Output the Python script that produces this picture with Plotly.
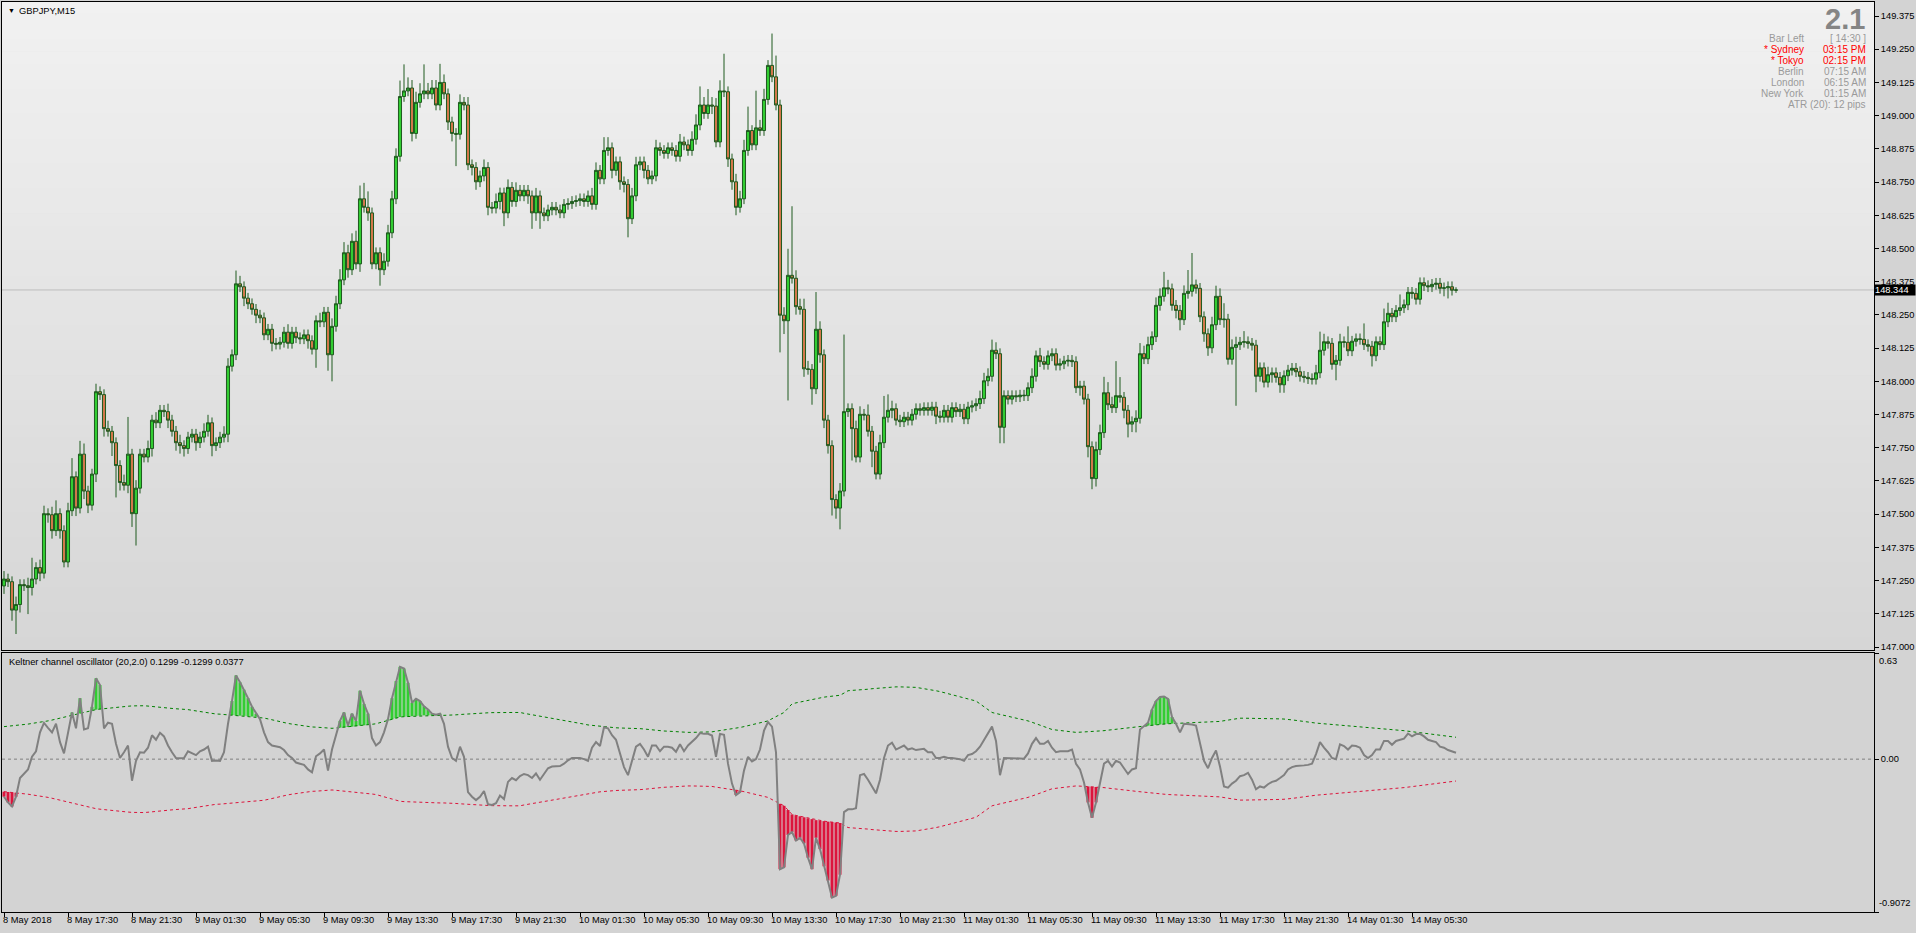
import plotly.graph_objects as go

# ---------------- data ----------------
symbol_text = "GBPJPY,M15"
indicator_title = "Keltner channel oscillator (20,2.0) 0.1299 -0.1299 0.0377"
first_open = 147.230

closes = [
    147.256, 147.246, 147.139, 147.160, 147.235, 147.231, 147.224, 147.256, 147.299, 147.278, 147.502, 147.498, 147.438, 147.502, 147.438, 147.320,
    147.513, 147.641, 147.523, 147.726, 147.587, 147.534, 147.651, 147.961, 147.950, 147.822, 147.812, 147.769, 147.683, 147.619, 147.609, 147.726,
    147.502, 147.598, 147.726, 147.715, 147.747, 147.854, 147.844, 147.891, 147.886, 147.854, 147.812, 147.769, 147.758, 147.747, 147.790, 147.801,
    147.769, 147.790, 147.812, 147.844, 147.758, 147.769, 147.790, 147.801, 148.057, 148.100, 148.367, 148.356, 148.313, 148.292, 148.271, 148.249,
    148.239, 148.175, 148.196, 148.143, 148.140, 148.147, 148.185, 148.143, 148.185, 148.164, 148.160, 148.175, 148.153, 148.121, 148.228, 148.224,
    148.260, 148.100, 148.207, 148.292, 148.382, 148.484, 148.420, 148.527, 148.442, 148.687, 148.655, 148.634, 148.442, 148.484, 148.420, 148.452,
    148.559, 148.687, 148.847, 149.072, 149.093, 149.104, 148.933, 149.050, 149.082, 149.093, 149.082, 149.104, 149.040, 149.125, 149.082, 148.976,
    148.933, 148.930, 149.050, 149.040, 148.815, 148.805, 148.751, 148.773, 148.805, 148.655, 148.652, 148.677, 148.709, 148.634, 148.730, 148.677,
    148.719, 148.698, 148.719, 148.698, 148.634, 148.698, 148.634, 148.623, 148.645, 148.655, 148.645, 148.634, 148.666, 148.669, 148.677, 148.680,
    148.687, 148.677, 148.698, 148.666, 148.794, 148.762, 148.869, 148.879, 148.794, 148.826, 148.751, 148.741, 148.612, 148.698, 148.815, 148.826,
    148.794, 148.762, 148.773, 148.879, 148.869, 148.858, 148.879, 148.869, 148.847, 148.901, 148.890, 148.869, 148.911, 148.965, 149.040, 149.008,
    149.040, 149.036, 148.901, 149.093, 149.090, 148.837, 148.751, 148.655, 148.687, 148.869, 148.944, 148.890, 148.954, 148.944, 149.061, 149.189,
    149.146, 149.040, 148.249, 148.228, 148.399, 148.388, 148.281, 148.271, 148.047, 148.045, 147.972, 148.196, 148.100, 147.854, 147.758, 147.555,
    147.523, 147.587, 147.886, 147.897, 147.822, 147.715, 147.876, 147.873, 147.812, 147.737, 147.651, 147.769, 147.865, 147.891, 147.897, 147.854,
    147.848, 147.865, 147.854, 147.876, 147.897, 147.891, 147.901, 147.891, 147.903, 147.869, 147.865, 147.891, 147.865, 147.901, 147.886, 147.895,
    147.859, 147.903, 147.908, 147.916, 147.935, 148.002, 148.019, 148.117, 148.104, 147.827, 147.946, 147.933, 147.946, 147.942, 147.948, 147.946,
    147.976, 148.019, 148.096, 148.074, 148.064, 148.096, 148.104, 148.061, 148.066, 148.076, 148.079, 148.074, 147.976, 147.982, 147.933, 147.754,
    147.634, 147.743, 147.807, 147.957, 147.912, 147.901, 147.946, 147.940, 147.891, 147.839, 147.848, 147.861, 148.104, 148.085, 148.138, 148.168,
    148.286, 148.320, 148.352, 148.348, 148.286, 148.267, 148.232, 148.331, 148.339, 148.363, 148.350, 148.243, 148.179, 148.126, 148.213, 148.320,
    148.232, 148.234, 148.083, 148.128, 148.138, 148.147, 148.149, 148.143, 148.136, 148.019, 148.051, 147.997, 148.025, 148.032, 148.015, 147.987,
    148.021, 148.042, 148.049, 148.036, 148.019, 148.015, 148.010, 148.008, 148.032, 148.117, 148.149, 148.143, 148.064, 148.079, 148.149, 148.147,
    148.115, 148.151, 148.160, 148.158, 148.138, 148.132, 148.096, 148.149, 148.138, 148.224, 148.256, 148.243, 148.267, 148.277, 148.288, 148.335,
    148.331, 148.309, 148.371, 148.360, 148.356, 148.365, 148.369, 148.350, 148.352, 148.356, 148.343, 148.344,
]

upper_wick_pips = [
    3, 2, 2, 3, 2, 2, 3, 8, 2, 3, 3, 2, 3, 5, 2, 2,
    3, 7, 2, 5, 4, 2, 2, 3, 2, 2, 3, 2, 2, 2, 3, 14,
    2, 3, 2, 2, 3, 2, 3, 2, 2, 3, 2, 2, 3, 2, 2, 2,
    2, 2, 3, 3, 2, 2, 2, 3, 3, 2, 5, 3, 2, 2, 2, 2,
    2, 2, 2, 2, 2, 2, 2, 3, 2, 2, 2, 2, 2, 2, 2, 3,
    2, 2, 3, 3, 4, 4, 3, 3, 4, 5, 6, 6, 2, 2, 2, 3,
    3, 3, 3, 6, 10, 4, 3, 4, 4, 10, 3, 3, 3, 7, 3, 2,
    2, 2, 3, 2, 3, 2, 2, 2, 3, 2, 2, 3, 2, 2, 3, 2,
    3, 2, 2, 2, 2, 3, 2, 2, 2, 2, 2, 2, 2, 2, 2, 2,
    2, 2, 2, 3, 3, 2, 5, 4, 2, 2, 2, 2, 2, 3, 3, 2,
    2, 2, 2, 3, 2, 2, 2, 2, 2, 3, 2, 2, 3, 4, 7, 3,
    6, 3, 3, 4, 14, 2, 2, 3, 3, 4, 9, 2, 14, 3, 4, 2,
    12, 8, 2, 3, 10, 26, 3, 3, 4, 3, 2, 14, 3, 2, 2, 2,
    2, 3, 29, 2, 2, 3, 3, 2, 4, 2, 2, 3, 8, 6, 3, 2,
    2, 2, 2, 2, 2, 2, 2, 2, 2, 2, 2, 2, 2, 2, 2, 2,
    2, 2, 2, 2, 3, 3, 3, 4, 3, 2, 2, 2, 2, 2, 2, 2,
    2, 3, 2, 3, 2, 2, 2, 2, 2, 2, 2, 2, 2, 2, 2, 2,
    2, 3, 3, 6, 4, 3, 13, 7, 2, 2, 2, 3, 4, 3, 3, 2,
    3, 3, 6, 3, 2, 2, 2, 3, 8, 12, 2, 2, 2, 2, 3, 4,
    3, 6, 2, 3, 3, 2, 4, 2, 2, 2, 2, 2, 3, 2, 2, 2,
    2, 2, 2, 2, 2, 2, 2, 2, 3, 7, 3, 2, 2, 2, 3, 2,
    6, 2, 2, 2, 6, 2, 2, 2, 2, 5, 4, 2, 2, 5, 2, 2,
    2, 2, 2, 2, 2, 2, 2, 2, 2, 2, 2, 1,
]

lower_wick_pips = [
    3, 2, 4, 9, 3, 2, 10, 3, 2, 3, 2, 3, 3, 2, 3, 2,
    2, 2, 3, 2, 3, 3, 2, 3, 2, 3, 2, 5, 12, 3, 2, 3,
    5, 12, 2, 2, 2, 3, 2, 2, 2, 3, 2, 3, 3, 3, 2, 2,
    3, 2, 2, 2, 4, 2, 2, 2, 3, 2, 2, 2, 3, 2, 2, 3,
    2, 2, 2, 3, 2, 2, 2, 2, 2, 2, 2, 2, 3, 2, 7, 2,
    2, 6, 10, 2, 2, 2, 3, 2, 2, 3, 2, 3, 2, 2, 6, 2,
    2, 2, 2, 2, 2, 2, 3, 2, 2, 2, 2, 2, 2, 2, 2, 3,
    3, 12, 2, 2, 2, 3, 3, 2, 2, 3, 2, 2, 3, 5, 2, 2,
    2, 2, 2, 3, 6, 3, 6, 2, 2, 2, 2, 2, 2, 2, 2, 2,
    2, 2, 2, 2, 2, 2, 2, 2, 3, 2, 3, 3, 7, 2, 2, 2,
    3, 2, 2, 2, 2, 2, 2, 2, 2, 2, 2, 2, 2, 2, 2, 2,
    2, 3, 2, 2, 2, 3, 3, 3, 2, 2, 2, 2, 2, 2, 2, 2,
    2, 2, 14, 5, 30, 2, 3, 2, 3, 2, 6, 2, 3, 3, 3, 6,
    4, 8, 2, 2, 12, 2, 2, 2, 2, 6, 2, 2, 2, 2, 3, 2,
    2, 2, 2, 2, 2, 2, 2, 2, 2, 3, 2, 2, 2, 2, 2, 2,
    2, 2, 2, 2, 2, 2, 2, 2, 2, 6, 6, 2, 2, 2, 2, 2,
    2, 2, 2, 2, 2, 2, 2, 2, 2, 2, 2, 2, 2, 3, 2, 4,
    4, 3, 2, 2, 2, 2, 2, 2, 3, 5, 3, 4, 2, 2, 2, 2,
    2, 2, 2, 2, 2, 3, 4, 2, 2, 2, 2, 2, 3, 3, 2, 2,
    2, 3, 2, 2, 22, 2, 2, 2, 2, 6, 2, 2, 2, 3, 2, 3,
    3, 2, 2, 2, 2, 2, 2, 2, 2, 2, 2, 2, 2, 6, 2, 2,
    2, 2, 2, 2, 2, 2, 4, 2, 2, 2, 2, 2, 2, 2, 2, 2,
    2, 2, 2, 2, 2, 2, 2, 2, 3, 4, 2, 1,
]

osc = [
    -0.223, -0.257, -0.281, -0.223, -0.112, -0.088, -0.061, 0.014, 0.047, 0.159, 0.215, 0.186, 0.159, 0.210, 0.101, 0.034,
    0.159, 0.277, 0.183, 0.362, 0.176, 0.183, 0.311, 0.480, 0.440, 0.183, 0.216, 0.210, 0.091, 0.007, 0.041, 0.081,
    -0.128, -0.010, 0.041, 0.038, 0.068, 0.142, 0.115, 0.156, 0.135, 0.081, 0.041, 0.007, 0.005, 0.007, 0.047, 0.034,
    0.024, 0.047, 0.057, 0.074, -0.010, -0.008, -0.010, 0.041, 0.210, 0.345, 0.497, 0.456, 0.412, 0.362, 0.311, 0.270,
    0.237, 0.159, 0.101, 0.081, 0.074, 0.071, 0.054, 0.024, 0.007, -0.020, -0.027, -0.034, -0.061, -0.078, 0.017, 0.034,
    0.057, -0.068, 0.057, 0.142, 0.227, 0.277, 0.199, 0.270, 0.227, 0.406, 0.328, 0.270, 0.125, 0.081, 0.101, 0.159,
    0.237, 0.362, 0.463, 0.548, 0.538, 0.453, 0.335, 0.358, 0.345, 0.314, 0.294, 0.270, 0.264, 0.270, 0.210, 0.074,
    0.007, -0.010, 0.074, 0.014, -0.196, -0.223, -0.243, -0.223, -0.189, -0.268, -0.272, -0.262, -0.216, -0.237, -0.135, -0.112,
    -0.125, -0.101, -0.088, -0.095, -0.112, -0.085, -0.122, -0.085, -0.054, -0.044, -0.044, -0.041, -0.027, -0.007, 0.007, 0.007,
    0.007, 0.000, -0.010, 0.068, 0.101, 0.078, 0.189, 0.183, 0.142, 0.115, 0.034, -0.047, -0.095, -0.010, 0.074, 0.091,
    0.057, 0.014, 0.081, 0.081, 0.047, 0.074, 0.074, 0.068, 0.044, 0.088, 0.047, 0.081, 0.101, 0.125, 0.155, 0.150,
    0.150, 0.140, 0.014, 0.150, 0.145, -0.027, -0.145, -0.213, -0.196, -0.068, 0.014, -0.014, 0.000, 0.057, 0.169, 0.220,
    0.193, 0.041, -0.653, -0.642, -0.450, -0.433, -0.483, -0.467, -0.500, -0.585, -0.653, -0.467, -0.534, -0.636, -0.720, -0.822,
    -0.811, -0.686, -0.314, -0.298, -0.298, -0.291, -0.095, -0.088, -0.122, -0.162, -0.203, -0.122, 0.007, 0.081, 0.098, 0.057,
    0.068, 0.081, 0.057, 0.064, 0.054, 0.057, 0.061, 0.041, 0.041, 0.007, 0.007, 0.014, 0.007, 0.007, 0.003, 0.000,
    -0.010, 0.024, 0.030, 0.047, 0.074, 0.115, 0.149, 0.193, 0.108, -0.095, 0.007, 0.007, 0.007, 0.007, 0.003, 0.003,
    0.034, 0.091, 0.125, 0.091, 0.091, 0.108, 0.068, 0.041, 0.047, 0.047, 0.047, 0.057, -0.027, -0.061, -0.139, -0.257,
    -0.348, -0.257, -0.145, -0.027, -0.010, -0.044, -0.010, -0.020, -0.054, -0.088, -0.061, -0.054, 0.176, 0.196, 0.216, 0.294,
    0.345, 0.369, 0.372, 0.358, 0.250, 0.210, 0.159, 0.210, 0.210, 0.206, 0.200, 0.091, -0.010, -0.054, 0.007, 0.051,
    -0.044, -0.162, -0.169, -0.145, -0.128, -0.101, -0.095, -0.081, -0.122, -0.179, -0.162, -0.169, -0.149, -0.135, -0.128, -0.112,
    -0.095, -0.061, -0.047, -0.041, -0.037, -0.037, -0.034, -0.027, 0.030, 0.101, 0.068, 0.041, 0.007, 0.000, 0.088, 0.078,
    0.057, 0.081, 0.078, 0.068, 0.024, 0.007, 0.024, 0.057, 0.057, 0.108, 0.108, 0.085, 0.108, 0.115, 0.122, 0.152,
    0.135, 0.149, 0.150, 0.135, 0.115, 0.108, 0.101, 0.074, 0.068, 0.054, 0.047, 0.0377,
]

band = [
    0.193, 0.195, 0.197, 0.199, 0.201, 0.205, 0.208, 0.212, 0.215, 0.219, 0.223, 0.227, 0.232, 0.238, 0.243, 0.249,
    0.254, 0.260, 0.266, 0.271, 0.277, 0.283, 0.288, 0.294, 0.297, 0.300, 0.303, 0.306, 0.308, 0.311, 0.313, 0.314,
    0.316, 0.317, 0.318, 0.317, 0.315, 0.312, 0.310, 0.307, 0.304, 0.303, 0.301, 0.299, 0.298, 0.296, 0.294, 0.290,
    0.286, 0.282, 0.278, 0.274, 0.270, 0.268, 0.267, 0.265, 0.263, 0.262, 0.260, 0.258, 0.257, 0.255, 0.253, 0.252,
    0.250, 0.244, 0.239, 0.233, 0.227, 0.222, 0.216, 0.212, 0.208, 0.204, 0.201, 0.197, 0.193, 0.191, 0.190, 0.188,
    0.186, 0.185, 0.183, 0.185, 0.187, 0.189, 0.191, 0.193, 0.196, 0.199, 0.201, 0.204, 0.207, 0.210, 0.217, 0.223,
    0.230, 0.237, 0.243, 0.250, 0.252, 0.253, 0.255, 0.257, 0.258, 0.260, 0.260, 0.260, 0.260, 0.260, 0.260, 0.260,
    0.262, 0.263, 0.265, 0.267, 0.268, 0.270, 0.271, 0.272, 0.273, 0.275, 0.276, 0.277, 0.277, 0.277, 0.277, 0.277,
    0.277, 0.277, 0.272, 0.268, 0.263, 0.259, 0.254, 0.250, 0.246, 0.242, 0.239, 0.235, 0.231, 0.227, 0.222, 0.218,
    0.213, 0.208, 0.203, 0.200, 0.197, 0.194, 0.192, 0.189, 0.186, 0.186, 0.185, 0.185, 0.184, 0.184, 0.183, 0.181,
    0.179, 0.176, 0.174, 0.172, 0.169, 0.167, 0.166, 0.164, 0.162, 0.161, 0.159, 0.159, 0.159, 0.159, 0.159, 0.159,
    0.159, 0.162, 0.166, 0.169, 0.172, 0.176, 0.180, 0.184, 0.188, 0.193, 0.199, 0.204, 0.210, 0.216, 0.221, 0.227,
    0.240, 0.252, 0.265, 0.277, 0.302, 0.328, 0.334, 0.339, 0.345, 0.351, 0.356, 0.362, 0.365, 0.368, 0.371, 0.373,
    0.376, 0.379, 0.392, 0.406, 0.408, 0.409, 0.411, 0.412, 0.415, 0.418, 0.420, 0.423, 0.426, 0.429, 0.429, 0.429,
    0.429, 0.429, 0.429, 0.429, 0.426, 0.422, 0.419, 0.415, 0.412, 0.406, 0.401, 0.395, 0.390, 0.384, 0.379, 0.372,
    0.365, 0.359, 0.352, 0.345, 0.328, 0.311, 0.294, 0.277, 0.271, 0.266, 0.260, 0.255, 0.249, 0.244, 0.238, 0.233,
    0.227, 0.219, 0.210, 0.202, 0.193, 0.185, 0.176, 0.173, 0.170, 0.167, 0.165, 0.162, 0.159, 0.160, 0.161, 0.162,
    0.164, 0.165, 0.166, 0.169, 0.172, 0.174, 0.177, 0.180, 0.183, 0.186, 0.188, 0.191, 0.194, 0.196, 0.199, 0.201,
    0.203, 0.206, 0.208, 0.210, 0.211, 0.212, 0.213, 0.214, 0.215, 0.216, 0.217, 0.217, 0.218, 0.219, 0.219, 0.220,
    0.224, 0.228, 0.232, 0.235, 0.239, 0.243, 0.243, 0.243, 0.243, 0.243, 0.243, 0.243, 0.242, 0.241, 0.240, 0.239,
    0.238, 0.237, 0.233, 0.230, 0.226, 0.223, 0.219, 0.216, 0.214, 0.212, 0.210, 0.207, 0.205, 0.203, 0.201, 0.200,
    0.198, 0.196, 0.195, 0.193, 0.191, 0.190, 0.188, 0.186, 0.185, 0.183, 0.180, 0.178, 0.175, 0.172, 0.169, 0.166,
    0.163, 0.159, 0.156, 0.152, 0.149, 0.146, 0.143, 0.141, 0.138, 0.135, 0.132, 0.1299,
]

time_labels = [
    "8 May 2018", "8 May 17:30", "8 May 21:30", "9 May 01:30", "9 May 05:30", "9 May 09:30",
    "9 May 13:30", "9 May 17:30", "9 May 21:30", "10 May 01:30", "10 May 05:30", "10 May 09:30",
    "10 May 13:30", "10 May 17:30", "10 May 21:30", "11 May 01:30", "11 May 05:30", "11 May 09:30",
    "11 May 13:30", "11 May 17:30", "11 May 21:30", "14 May 01:30", "14 May 05:30",
]
bars_per_label = 16

price_ticks = [147.000, 147.125, 147.250, 147.375, 147.500, 147.625, 147.750, 147.875,
               148.000, 148.125, 148.250, 148.375, 148.500, 148.625, 148.750, 148.875,
               149.000, 149.125, 149.250, 149.375]
last_price = 148.344
osc_top, osc_bottom = 0.63, -0.9072

spread_text = "2.1"
info_labels = ["Bar Left", "* Sydney", "* Tokyo", "Berlin", "London", "New York"]
info_values = ["[ 14:30 ]", "03:15 PM", "02:15 PM", "07:15 AM", "06:15 AM", "01:15 AM"]
info_is_open = [False, True, True, False, False, False]
atr_text = "ATR (20): 12 pips"

# ---------------- derived ----------------
n = len(closes)
assert all(len(a) == n for a in (upper_wick_pips, lower_wick_pips, osc, band)), \
    [len(a) for a in (closes, upper_wick_pips, lower_wick_pips, osc, band)]
idx = list(range(n))
opens = [first_open] + closes[:-1]
highs = [round(max(o, c) + u / 100.0, 3) for o, c, u in zip(opens, closes, upper_wick_pips)]
lows = [round(min(o, c) - d / 100.0, 3) for o, c, d in zip(opens, closes, lower_wick_pips)]
upper = band
lower = [-b for b in band]

g_x, g_base, g_h = [], [], []
r_x, r_base, r_h = [], [], []
for i, (v, u, l) in enumerate(zip(osc, upper, lower)):
    if v > u:
        g_x.append(i); g_base.append(u); g_h.append(v - u)
    elif v < l:
        r_x.append(i); r_base.append(l); r_h.append(v - l)

# ---------------- style ----------------
W, H = 1916, 933
ML, MR, MT, MB = 2, 42, 2, 21
PLOT_H = H - MT - MB
PX_PER_BAR = 4.0
x_min = -0.5
x_max = x_min + (W - ML - MR) / PX_PER_BAR
main_top_px, main_bot_px = 2, 650
ind_top_px, ind_bot_px = 653, 912
def dom(top_px, bot_px):
    return [(H - MB - bot_px) / PLOT_H, (H - MB - top_px) / PLOT_H]

FONT = "Liberation Sans, Arial, sans-serif"
BG = "#d3d3d3"
CANDLE_LINE = "#1f5a1f"
BULL = "#32cd32"
BEAR = "#d2784a"
GREY_TXT = "#9a9a9a"

fig = go.Figure()

fig.add_trace(go.Candlestick(
    x=idx, open=opens, high=highs, low=lows, close=closes,
    increasing=dict(line=dict(color=CANDLE_LINE, width=1), fillcolor=BULL),
    decreasing=dict(line=dict(color=CANDLE_LINE, width=1), fillcolor=BEAR),
    whiskerwidth=0, xaxis="x", yaxis="y", hoverinfo="skip", showlegend=False,
))

fig.add_trace(go.Bar(x=g_x, y=g_h, base=g_base, width=0.75, marker=dict(color="#32cd32", line=dict(width=0)),
                     xaxis="x2", yaxis="y2", hoverinfo="skip", showlegend=False))
fig.add_trace(go.Bar(x=r_x, y=r_h, base=r_base, width=0.75, marker=dict(color="#dc143c", line=dict(width=0)),
                     xaxis="x2", yaxis="y2", hoverinfo="skip", showlegend=False))
fig.add_trace(go.Scatter(x=idx, y=upper, mode="lines", line=dict(color="#008000", width=1, dash="3px,3px"),
                         xaxis="x2", yaxis="y2", hoverinfo="skip", showlegend=False))
fig.add_trace(go.Scatter(x=idx, y=lower, mode="lines", line=dict(color="#dc143c", width=1, dash="3px,3px"),
                         xaxis="x2", yaxis="y2", hoverinfo="skip", showlegend=False))
fig.add_trace(go.Scatter(x=idx, y=osc, mode="lines", line=dict(color="#808080", width=2),
                         xaxis="x2", yaxis="y2", hoverinfo="skip", showlegend=False))

shapes = []
NB = 52
for k in range(NB):
    t = k / (NB - 1)
    c = round(241 - t * 27)
    shapes.append(dict(type="rect", xref="x domain", yref="y domain", x0=0, x1=1,
                       y0=1 - (k + 1) / NB, y1=1 - k / NB + 0.001, layer="below",
                       line=dict(width=0), fillcolor=f"rgb({c},{c},{c})"))
shapes.append(dict(type="line", xref="x domain", yref="y", x0=0, x1=1, y0=last_price, y1=last_price,
                   layer="below", line=dict(color="#bdbdbd", width=1)))
shapes.append(dict(type="line", xref="x2 domain", yref="y2", x0=0, x1=1, y0=0, y1=0,
                   layer="below", line=dict(color="#808080", width=1, dash="3px,3px")))

axis_common = dict(showline=True, linecolor="black", linewidth=1, mirror=True, showgrid=False,
                   zeroline=False, automargin=False, fixedrange=True)
tickfont = dict(family=FONT, size=9.3, color="black")

fig.update_layout(
    width=W, height=H, margin=dict(l=ML, r=MR, t=MT, b=MB),
    paper_bgcolor=BG, plot_bgcolor=BG, barmode="overlay", showlegend=False,
    boxgap=0.2, boxgroupgap=0.05,
    xaxis=dict(domain=[0, 1], range=[x_min, x_max], anchor="y", showticklabels=False, ticks="",
               rangeslider=dict(visible=False), **axis_common),
    yaxis=dict(domain=dom(main_top_px, main_bot_px), side="right", anchor="x",
               range=[149.375 - (main_bot_px - 16) / 265.7, 149.375 - (main_top_px - 16) / 265.7],
               tickvals=price_ticks, ticktext=[f"{p:.3f}" for p in price_ticks],
               ticks="outside", ticklen=4, tickcolor="black", tickfont=tickfont, **axis_common),
    xaxis2=dict(domain=[0, 1], range=[x_min, x_max], anchor="y2", showticklabels=False,
                tickvals=[k * bars_per_label for k in range(len(time_labels))],
                ticks="outside", ticklen=4, tickcolor="black", **axis_common),
    yaxis2=dict(domain=dom(ind_top_px, ind_bot_px), side="right", anchor="x2",
                range=[osc_bottom, osc_top], tickvals=[osc_top, 0.0, osc_bottom], ticktext=["", "0.00", ""],
                ticks="outside", ticklen=4, tickcolor="black", tickfont=tickfont, **axis_common),
    shapes=shapes,
)

ann = []
def px_ann(text, x_px, y_px, xanchor, size, color, bold=False, yanchor="middle"):
    t = f"<b>{text}</b>" if bold else text
    ann.append(dict(text=t, xref="paper", yref="paper", x=0, y=1, xanchor=xanchor, yanchor=yanchor,
                    xshift=x_px - ML, yshift=-(y_px - MT), showarrow=False,
                    font=dict(family=FONT, size=size, color=color)))

px_ann("▼", 6, 10, "left", 7, "black")
px_ann(symbol_text, 17, 11, "left", 9.3, "black")
px_ann(spread_text, 1867, 19, "right", 29, "#858585", bold=True)
row_y = [38.5, 49.5, 60.5, 71.5, 82.5, 93.5]
for lab, val, is_open, y in zip(info_labels, info_values, info_is_open, row_y):
    col = "#ff0000" if is_open else GREY_TXT
    px_ann(lab, 1806, y, "right", 10, col)
    px_ann(val, 1868, y, "right", 10, col)
px_ann(atr_text, 1868, 104.5, "right", 10, GREY_TXT)
px_ann(indicator_title, 7, 662, "left", 9.3, "black")

for k, lab in enumerate(time_labels):
    ann.append(dict(text=lab, xref="x2", yref="paper", x=k * bars_per_label, y=0,
                    xanchor="left", yanchor="top", xshift=-3, yshift=-1, showarrow=False,
                    font=dict(family=FONT, size=9.3, color="black")))

ann.append(dict(text=f"{last_price:.3f}", xref="paper", yref="y", x=1, y=last_price, xanchor="left",
                yanchor="middle", xshift=0, showarrow=False, bgcolor="black", borderpad=0,
                width=W - (W - MR) - 2, align="left",
                font=dict(family=FONT, size=9.3, color="white")))
ann.append(dict(text=f"{osc_top:.2f}", xref="paper", yref="y2 domain", x=1, y=1, xanchor="left",
                yanchor="top", xshift=3, yshift=-1, showarrow=False, font=tickfont))
ann.append(dict(text=f"{osc_bottom:.4f}", xref="paper", yref="y2 domain", x=1, y=0, xanchor="left",
                yanchor="bottom", xshift=3, yshift=2, showarrow=False, font=tickfont))

fig.update_layout(annotations=ann)
fig.write_html(
    "out.html",
    config={"displayModeBar": False, "staticPlot": True},
    post_script="document.body.style.margin='0';document.body.style.padding='0';"
                "document.body.style.overflow='hidden';",
)
